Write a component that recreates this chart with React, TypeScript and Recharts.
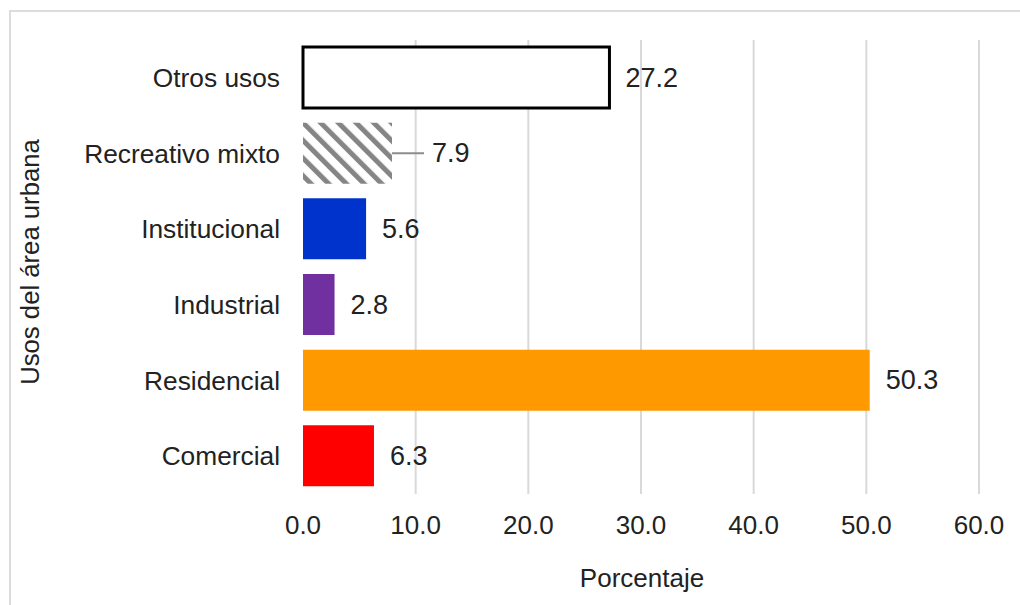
import React from 'react';
import { BarChart, Bar, XAxis, YAxis, CartesianGrid, Cell, LabelList } from 'recharts';

const categories = ['Otros usos', 'Recreativo mixto', 'Institucional', 'Industrial', 'Residencial', 'Comercial'];
const values = [27.2, 7.9, 5.6, 2.8, 50.3, 6.3];
const fills = ['#ffffff', 'url(#hatch)', '#0033cc', '#7030a0', '#ff9900', '#ff0000'];
const strokes = ['#000000', 'none', 'none', 'none', 'none', 'none'];
const xTicks = [0, 10, 20, 30, 40, 50, 60];

const data = categories.map((c, i) => ({ name: c, value: values[i] }));

const FONT = '"Liberation Sans", Arial, Helvetica, sans-serif';

const YTick = (props: any) => {
  const { x, y, payload } = props;
  return (
    <text x={x - 23} y={y} textAnchor="end" dominantBaseline="central" fontSize={26.3} fill="#222" fontFamily={FONT}>
      {payload.value}
    </text>
  );
};

const XTick = (props: any) => {
  const { x, y, payload } = props;
  return (
    <text x={x} y={y + 31} textAnchor="middle" dominantBaseline="central" fontSize={26} fill="#222" fontFamily={FONT}>
      {Number(payload.value).toFixed(1)}
    </text>
  );
};

const ValueLabel = (props: any) => {
  const { x, y, width, height, value, index } = props;
  const endX = Number(x) + Number(width);
  const cy = Number(y) + Number(height) / 2;
  if (index === 1) {
    return (
      <g>
        <line x1={endX} y1={cy} x2={endX + 32} y2={cy} stroke="#8c8c8c" strokeWidth={2} />
        <text x={endX + 40} y={cy} dominantBaseline="central" fontSize={27} fill="#222" fontFamily={FONT}>
          {Number(value).toFixed(1)}
        </text>
      </g>
    );
  }
  return (
    <text x={endX + 16} y={cy} dominantBaseline="central" fontSize={27} fill="#222" fontFamily={FONT}>
      {Number(value).toFixed(1)}
    </text>
  );
};

const gridGen = (args: any) => {
  const { xAxis, offset } = args;
  return xTicks.slice(1).map((t) => {
    if (xAxis && typeof xAxis.scale === 'function') return xAxis.scale(t);
    return offset.left + (offset.width * t) / 60;
  });
};

export default function App() {
  return (
    <div style={{ position: 'absolute', left: 0, top: 0, width: 1020, height: 605, overflow: 'hidden', background: '#fff' }}>
      <div style={{ position: 'absolute', left: 9, top: 10, width: 1100, height: 700, borderTop: '2px solid #dcdcdc', borderLeft: '2px solid #dcdcdc' }} />
      <div style={{ position: 'absolute', left: 0, top: 0 }}>
        <BarChart
          width={1020}
          height={605}
          layout="vertical"
          data={data}
          margin={{ top: 40, right: 41, bottom: 0, left: 0 }}
          barSize={61}
        >
          <defs>
            <pattern id="hatch" patternUnits="userSpaceOnUse" width={12.5} height={12.5} patternTransform="rotate(-45)">
              <rect x={0} y={0} width={12.5} height={12.5} fill="#ffffff" />
              <rect x={0} y={0} width={5} height={12.5} fill="#858585" />
            </pattern>
          </defs>
          <CartesianGrid horizontal={false} stroke="#d9d9d9" strokeWidth={2} verticalCoordinatesGenerator={gridGen} />
          <XAxis
            type="number"
            domain={[0, 60]}
            ticks={xTicks}
            axisLine={false}
            tickLine={false}
            tickSize={0}
            tickMargin={0}
            height={111}
            tick={<XTick />}
            interval={0}
          />
          <YAxis
            type="category"
            dataKey="name"
            width={303}
            axisLine={false}
            tickLine={false}
            tickSize={0}
            tickMargin={0}
            tick={<YTick />}
            interval={0}
          />
          <Bar dataKey="value" isAnimationActive={false}>
            {data.map((d, i) => (
              <Cell key={d.name} fill={fills[i]} stroke={strokes[i]} strokeWidth={strokes[i] === 'none' ? 0 : 3} />
            ))}
            <LabelList dataKey="value" content={<ValueLabel />} />
          </Bar>
          <text x={30} y={262} transform="rotate(-90 30 262)" textAnchor="middle" dominantBaseline="central" fontSize={25.7} fill="#222" fontFamily={FONT}>
            Usos del área urbana
          </text>
          <text x={642} y={578} textAnchor="middle" dominantBaseline="central" fontSize={26} fill="#222" fontFamily={FONT}>
            Porcentaje
          </text>
        </BarChart>
      </div>
    </div>
  );
}
